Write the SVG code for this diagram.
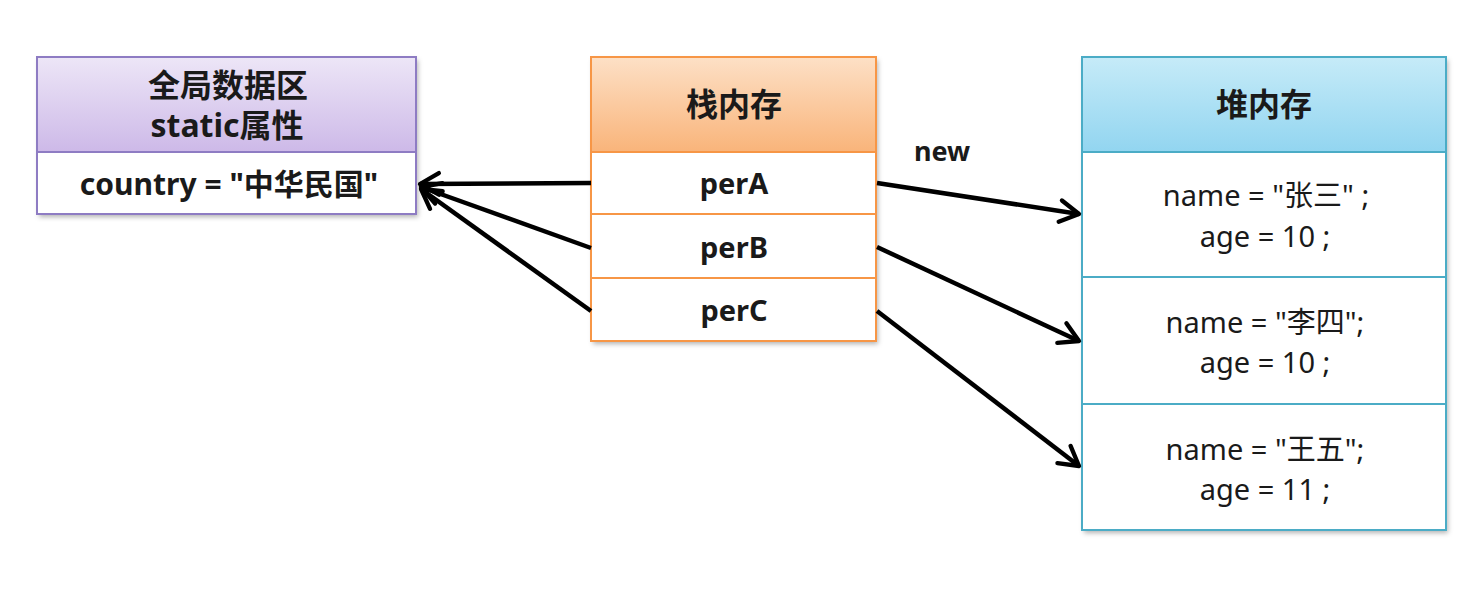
<svg xmlns="http://www.w3.org/2000/svg" width="1475" height="601" viewBox="0 0 1475 601">
<defs>
<linearGradient id="gP" x1="0" y1="0" x2="0" y2="1"><stop offset="0" stop-color="#ede6f7"/><stop offset="1" stop-color="#cdb9e8"/></linearGradient>
<linearGradient id="gO" x1="0" y1="0" x2="0" y2="1"><stop offset="0" stop-color="#fde0c6"/><stop offset="1" stop-color="#f9b47a"/></linearGradient>
<linearGradient id="gB" x1="0" y1="0" x2="0" y2="1"><stop offset="0" stop-color="#c6ebf8"/><stop offset="1" stop-color="#92d5f0"/></linearGradient>
<filter id="sh" x="-5%" y="-5%" width="110%" height="110%"><feDropShadow dx="2" dy="3" stdDeviation="2.5" flood-color="#000" flood-opacity="0.3"/></filter>
<marker id="ah" viewBox="0 0 20 20" refX="17" refY="10" markerWidth="6" markerHeight="6" markerUnits="strokeWidth" orient="auto"><path d="M3,2 L17,10 L3,18" fill="none" stroke="#000" stroke-width="3.2" stroke-linecap="round" stroke-linejoin="round"/></marker>
</defs>
<style>
.t{font-family:"Noto Sans","Noto Sans CJK SC",sans-serif;fill:#1a1a1a;text-anchor:middle}
.b{font-weight:bold}
.h{font-size:32px}
.m{font-size:29px}
.c{stroke:#000;stroke-width:4.5;fill:none;marker-end:url(#ah)}
</style>
<rect width="1475" height="601" fill="#fff"/>

<g id="global">
<rect x="37" y="57" width="379" height="157" fill="#fff" filter="url(#sh)"/>
<rect x="37" y="57" width="379" height="95" fill="url(#gP)" stroke="#8e7cc3" stroke-width="2"/>
<rect x="37" y="152" width="379" height="62" fill="#fff" stroke="#8e7cc3" stroke-width="2"/>
<text class="t h b" x="228" y="97">全局数据区</text>
<text class="t h b" x="227" y="137">static属性</text>
<text class="t b" x="229" y="195" font-size="30">country = "中华民国"</text>
</g>

<g id="stack">
<rect x="591" y="57" width="285" height="284" fill="#fff" filter="url(#sh)"/>
<rect x="591" y="57" width="285" height="95" fill="url(#gO)" stroke="#f79646" stroke-width="2"/>
<rect x="591" y="152" width="285" height="62" fill="#fff" stroke="#f79646" stroke-width="2"/>
<rect x="591" y="214" width="285" height="64" fill="#fff" stroke="#f79646" stroke-width="2"/>
<rect x="591" y="278" width="285" height="63" fill="#fff" stroke="#f79646" stroke-width="2"/>
<text class="t h b" x="734" y="116">栈内存</text>
<text class="t m b" x="734" y="194">perA</text>
<text class="t m b" x="734" y="258">perB</text>
<text class="t m b" x="734" y="321">perC</text>
</g>

<g id="heap">
<rect x="1082" y="57" width="364" height="473" fill="#fff" filter="url(#sh)"/>
<rect x="1082" y="57" width="364" height="95" fill="url(#gB)" stroke="#4bacc6" stroke-width="2"/>
<rect x="1082" y="152" width="364" height="125" fill="#fff" stroke="#4bacc6" stroke-width="2"/>
<rect x="1082" y="277" width="364" height="127" fill="#fff" stroke="#4bacc6" stroke-width="2"/>
<rect x="1082" y="404" width="364" height="126" fill="#fff" stroke="#4bacc6" stroke-width="2"/>
<text class="t h b" x="1264" y="116">堆内存</text>
<text class="t m" x="1266" y="206">name = "张三" ;</text>
<text class="t m" x="1265" y="247">age = 10 ;</text>
<text class="t m" x="1265" y="333">name = "李四";</text>
<text class="t m" x="1265" y="373">age = 10 ;</text>
<text class="t m" x="1265" y="460">name = "王五";</text>
<text class="t m" x="1265" y="500">age = 11 ;</text>
</g>

<g id="connectors">
<line class="c" x1="591" y1="183" x2="420" y2="184"/>
<line class="c" x1="591" y1="248" x2="421" y2="187"/>
<line class="c" x1="591" y1="311" x2="421" y2="189"/>
<line class="c" x1="877" y1="183" x2="1079" y2="214"/>
<line class="c" x1="877" y1="247" x2="1079" y2="341"/>
<line class="c" x1="877" y1="311" x2="1079" y2="466"/>
<text class="t b" x="942" y="161" font-size="27">new</text>
</g>
</svg>
